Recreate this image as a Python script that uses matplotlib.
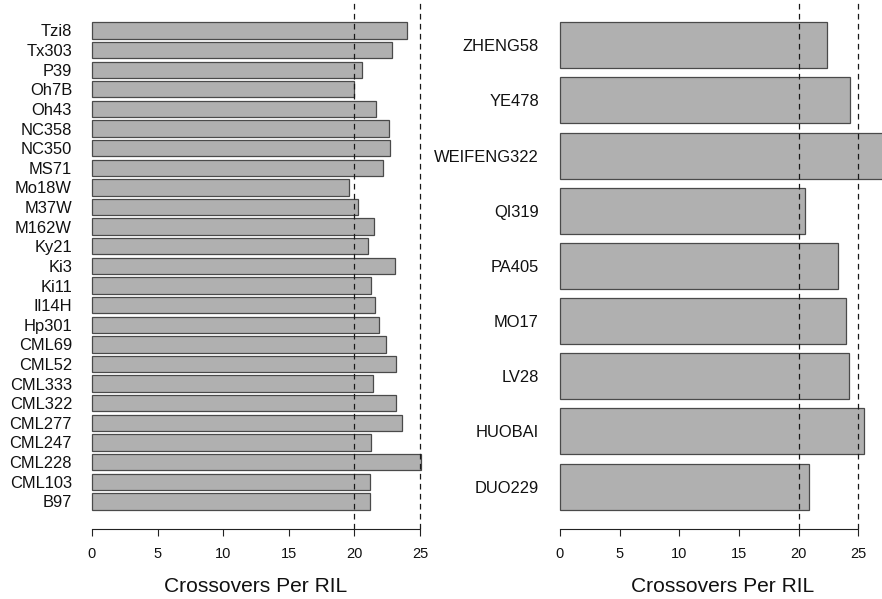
import matplotlib
matplotlib.use("Agg")
import matplotlib.pyplot as plt

# Crossovers per RIL for each founder line (bottom to top)
left_lines = ["B97", "CML103", "CML228", "CML247", "CML277", "CML322", "CML333",
              "CML52", "CML69", "Hp301", "Il14H", "Ki11", "Ki3", "Ky21", "M162W",
              "M37W", "Mo18W", "MS71", "NC350", "NC358", "Oh43", "Oh7B", "P39",
              "Tx303", "Tzi8"]
left_values = [21.2, 21.2, 25.05, 21.3, 23.65, 23.2, 21.4, 23.2, 22.4, 21.9, 21.6,
               21.3, 23.1, 21.0, 21.5, 20.3, 19.6, 22.2, 22.7, 22.6, 21.65, 20.0,
               20.6, 22.9, 24.0]

right_lines = ["DUO229", "HUOBAI", "LV28", "MO17", "PA405", "QI319", "WEIFENG322",
               "YE478", "ZHENG58"]
right_values = [20.9, 25.5, 24.2, 24.0, 23.3, 20.5, 27.5, 24.3, 22.35]

x_ticks = [0, 5, 10, 15, 20, 25]
ref_lines = [20, 25]
x_label = "Crossovers Per RIL"

W, H = 882, 599
FONT = "Liberation Sans"
BAR_FILL = "#b0b0b0"
BAR_EDGE = "#4a4a4a"

fig = plt.figure(figsize=(W / 100, H / 100), dpi=100)
fig.patch.set_facecolor("white")


def axes_px(left, right, top, bottom):
    return fig.add_axes([left / W, 1 - bottom / H, (right - left) / W, (bottom - top) / H])


def bar_panel(ax, names, values, xlim, label_pad):
    n = len(names)
    pos = [0.7 + 1.2 * i for i in range(n)]
    ax.barh(pos, values, height=1.0, color=BAR_FILL, edgecolor=BAR_EDGE,
            linewidth=0.9, zorder=2)
    for v in ref_lines:
        ax.axvline(v, color="#1a1a1a", linewidth=0.9, linestyle=(0, (4.5, 3.5)), zorder=3)
    lo, hi = 0.2, 1.2 * n
    ext = 0.04 * (hi - lo)
    ax.set_ylim(lo - ext, hi + ext)
    ax.set_xlim(*xlim)
    ax.set_yticks(pos)
    ax.set_yticklabels(names, fontsize=11.9, family=FONT, color="#111111")
    ax.tick_params(axis="y", length=0, pad=label_pad)
    ax.set_xticks(x_ticks)
    ax.set_xticklabels([str(t) for t in x_ticks], fontsize=10.5, family=FONT,
                       color="#111111")
    ax.tick_params(axis="x", direction="out", length=5.2, width=0.8,
                   color="#222222", pad=8.0)
    for side in ("left", "right", "top"):
        ax.spines[side].set_visible(False)
    ax.spines["bottom"].set_bounds(x_ticks[0], x_ticks[-1])
    ax.spines["bottom"].set_linewidth(0.8)
    ax.spines["bottom"].set_color("#222222")
    ax.set_facecolor("none")


top_px, bottom_px = 2.8, 529

# left panel: 0 at x=92 px, 13.12 px per unit
ax1 = axes_px(79, 434, top_px, bottom_px)
bar_panel(ax1, left_lines, left_values, ((79 - 92) / 13.12, (434 - 92) / 13.12), 5.0)

# right panel: 0 at x=560 px, 11.93 px per unit
ax2 = axes_px(547, 898, top_px, bottom_px)
bar_panel(ax2, right_lines, right_values, ((547 - 560) / 11.93, (898 - 560) / 11.93), 5.8)

fig.text(256 / W, 1 - 586 / H, x_label, ha="center", va="center",
         fontsize=15.1, family=FONT, color="#111111")
fig.text(722.5 / W, 1 - 586 / H, x_label, ha="center", va="center",
         fontsize=15.1, family=FONT, color="#111111")

fig.savefig("out.png", dpi=100, facecolor="white")
